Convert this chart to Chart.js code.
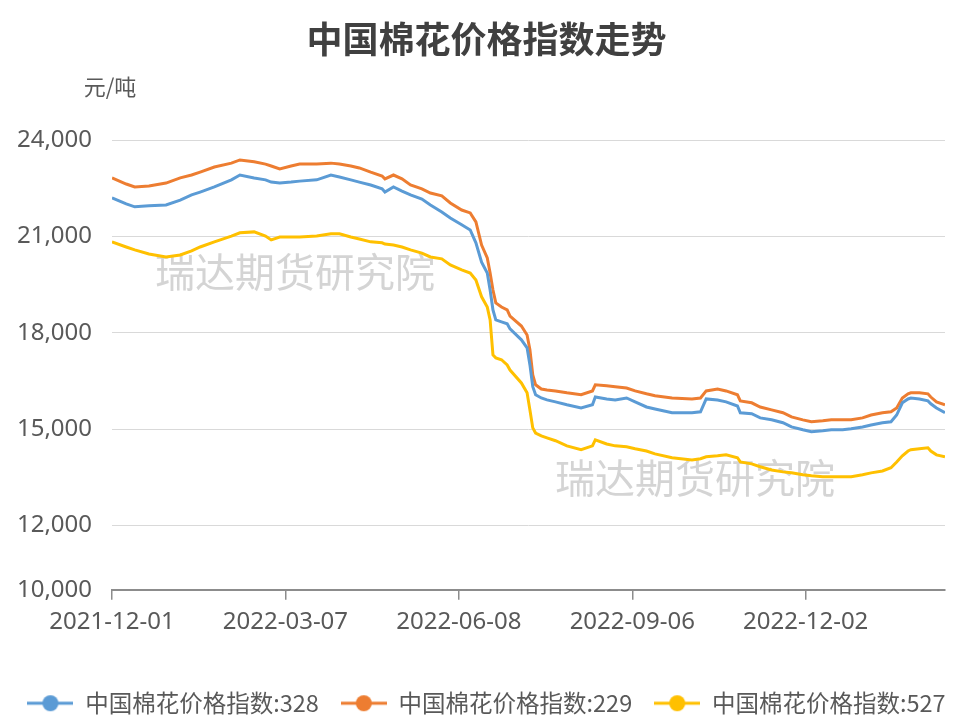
<!DOCTYPE html>
<html>
<head>
<meta charset="utf-8">
<script src="https://cdn.jsdelivr.net/npm/chart.js@4.4.0/dist/chart.umd.min.js"></script>
<style>
  body { margin: 0; background: #fff; }
  #wrap { width: 973px; height: 721px; }
</style>
</head>
<body>
<div id="wrap"><canvas id="cotton-chart" width="973" height="721"></canvas></div>
<script>
// Data (trading-day index of each sample)
const sampleDays = [0, 5, 8, 13, 19, 24, 28, 31, 36, 42, 45, 50, 54, 56, 59, 63, 66, 72, 77, 80,
  84, 87, 91, 95, 96, 99, 102, 105, 109, 112, 116, 119, 123, 126, 128, 130, 132, 133, 134, 135,
  137, 139, 140, 144, 146, 147, 148, 149, 151, 153, 156, 160, 165, 169, 170, 174, 177, 181, 184, 188,
  191, 197, 204, 207, 209, 213, 216, 220, 221, 225, 228, 232, 236, 239, 243, 246, 250, 253, 257, 260,
  264, 267, 271, 274, 276, 278, 280, 281, 284, 287, 288, 290, 293];

const index328 = [22200, 22010, 21920, 21950, 21980, 22130, 22290, 22380, 22540, 22760, 22910, 22820, 22760, 22690, 22660, 22690, 22720, 22760, 22910, 22850,
  22760, 22690, 22600, 22480, 22380, 22540, 22410, 22290, 22160, 21980, 21760, 21570, 21360, 21200, 20800, 20200, 19860, 19330, 18710, 18400,
  18340, 18280, 18120, 17780, 17530, 17000, 16320, 16070, 15970, 15910, 15850, 15760, 15660, 15760, 16000, 15940, 15910, 15970, 15850, 15690,
  15630, 15510, 15510, 15540, 15940, 15910, 15850, 15720, 15510, 15480, 15350, 15290, 15200, 15070, 14980, 14920, 14950, 14980, 14980, 15010,
  15070, 15130, 15200, 15230, 15440, 15820, 15940, 15970, 15940, 15880, 15790, 15660, 15510];

const index229 = [22820, 22630, 22540, 22570, 22660, 22820, 22910, 23000, 23160, 23280, 23380, 23320, 23250, 23190, 23100, 23190, 23250, 23250, 23280, 23250,
  23190, 23130, 23000, 22880, 22790, 22910, 22790, 22600, 22480, 22350, 22260, 22040, 21820, 21730, 21450, 20730, 20330, 19860, 19330, 18930,
  18800, 18710, 18520, 18210, 17930, 17470, 16690, 16380, 16250, 16220, 16190, 16130, 16070, 16190, 16380, 16350, 16320, 16280, 16190, 16100,
  16040, 15970, 15940, 15970, 16190, 16250, 16190, 16070, 15880, 15820, 15690, 15600, 15510, 15380, 15290, 15230, 15260, 15290, 15290, 15290,
  15350, 15440, 15510, 15540, 15660, 15970, 16100, 16130, 16130, 16100, 16000, 15850, 15760];

const index527 = [20830, 20670, 20580, 20450, 20360, 20420, 20550, 20670, 20830, 21010, 21110, 21140, 21010, 20890, 20980, 20980, 20980, 21010, 21080, 21080,
  20980, 20920, 20830, 20800, 20760, 20730, 20670, 20580, 20480, 20360, 20300, 20110, 19960, 19860, 19640, 19120, 18800, 18400, 17310, 17220,
  17160, 17000, 16840, 16440, 16130, 15600, 15040, 14880, 14790, 14730, 14640, 14480, 14360, 14480, 14670, 14540, 14480, 14450, 14390, 14320,
  14230, 14110, 14040, 14080, 14140, 14170, 14200, 14110, 13980, 13920, 13830, 13730, 13670, 13640, 13580, 13550, 13520, 13520, 13520, 13520,
  13580, 13640, 13700, 13800, 13980, 14170, 14320, 14360, 14390, 14420, 14320, 14200, 14140];

const tickDays = [0, 61, 122, 183, 244];
const tickLabels = ['2021-12-01', '2022-03-07', '2022-06-08', '2022-09-06', '2022-12-02'];
const yTicks = [10000, 12000, 15000, 18000, 21000, 24000];
const seriesNames = ['中国棉花价格指数:328', '中国棉花价格指数:229', '中国棉花价格指数:527'];
const seriesColors = ['#5b9bd5', '#ed7d31', '#ffc000'];

const cjkFont = "'Noto Sans CJK SC', 'Noto Sans', sans-serif";
const numFont = "'Noto Sans', 'Noto Sans CJK SC', sans-serif";

// legend marker: short line with a dot on it
function makeMarker(color) {
    const c = document.createElement('canvas');
    c.width = 46;
    c.height = 20;
    const g = c.getContext('2d');
    g.strokeStyle = color;
    g.lineWidth = 3;
    g.beginPath();
    g.moveTo(0, 10);
    g.lineTo(46, 10);
    g.stroke();
    g.fillStyle = color;
    g.beginPath();
    g.arc(23, 10, 8, 0, Math.PI * 2);
    g.fill();
    return c;
}
const markers = seriesColors.map(makeMarker);

function toPoints(values) {
    return values.map((v, i) => ({ x: sampleDays[i], y: v }));
}

// Unit label and watermark
const extrasPlugin = {
    id: 'extras',
    beforeDatasetsDraw(chart) {
        const ctx = chart.ctx;
        ctx.save();
        ctx.font = '40px ' + cjkFont;
        ctx.fillStyle = 'rgba(170,170,170,0.5)';
        ctx.textAlign = 'center';
        ctx.textBaseline = 'middle';
        ctx.fillText('瑞达期货研究院', 295, 272);
        ctx.fillText('瑞达期货研究院', 695, 478);
        ctx.restore();
    },
    afterDraw(chart) {
        const ctx = chart.ctx;
        ctx.save();
        ctx.font = '22px ' + cjkFont;
        ctx.fillStyle = '#595959';
        ctx.textAlign = 'center';
        ctx.textBaseline = 'middle';
        ctx.fillText('元/吨', 110, 87);
        ctx.restore();
    }
};

const datasets = [index328, index229, index527].map((vals, i) => ({
    label: seriesNames[i],
    data: toPoints(vals),
    borderColor: seriesColors[i],
    backgroundColor: seriesColors[i],
    borderWidth: 3,
    pointRadius: 0,
    pointStyle: markers[i],
    tension: 0,
    fill: false
}));

new Chart(document.getElementById('cotton-chart'), {
    type: 'line',
    data: { datasets },
    options: {
        responsive: false,
        animation: false,
        layout: { padding: { left: 0, right: 0, top: 0, bottom: -4 } },
        plugins: {
            title: {
                display: true,
                text: '中国棉花价格指数走势',
                color: '#404040',
                font: { family: cjkFont, size: 36, weight: 'bold' },
                padding: { top: 18, bottom: 78.8 }
            },
            legend: {
                position: 'bottom',
                labels: {
                    usePointStyle: true,
                    pointStyleWidth: 46,
                    padding: 22,
                    color: '#595959',
                    font: { family: cjkFont, size: 23.5 }
                }
            },
            tooltip: { enabled: false }
        },
        scales: {
            x: {
                type: 'linear',
                min: 0,
                max: 293,
                afterBuildTicks: (axis) => { axis.ticks = tickDays.map(v => ({ value: v })); },
                afterFit: (axis) => { axis.height = 79.7; axis.paddingRight = 28; },
                ticks: {
                    autoSkip: false,
                    maxRotation: 0,
                    padding: 8,
                    color: '#595959',
                    font: { family: numFont, size: 24 },
                    callback: (value) => tickLabels[tickDays.indexOf(value)]
                },
                grid: { drawOnChartArea: false, drawTicks: true, tickLength: 10, color: '#8c8c8c', lineWidth: 1.5 },
                border: { display: true, color: '#8c8c8c', width: 2 }
            },
            y: {
                min: 10000,
                max: 24000,
                afterBuildTicks: (axis) => { axis.ticks = yTicks.map(v => ({ value: v })); },
                afterFit: (axis) => { axis.width = 112; },
                ticks: {
                    padding: 20,
                    color: '#595959',
                    font: { family: numFont, size: 24 },
                    callback: (value) => value.toLocaleString('en-US')
                },
                grid: { color: '#d9d9d9', lineWidth: 1, drawTicks: false },
                border: { display: false }
            }
        }
    },
    plugins: [extrasPlugin]
});
</script>
</body>
</html>
